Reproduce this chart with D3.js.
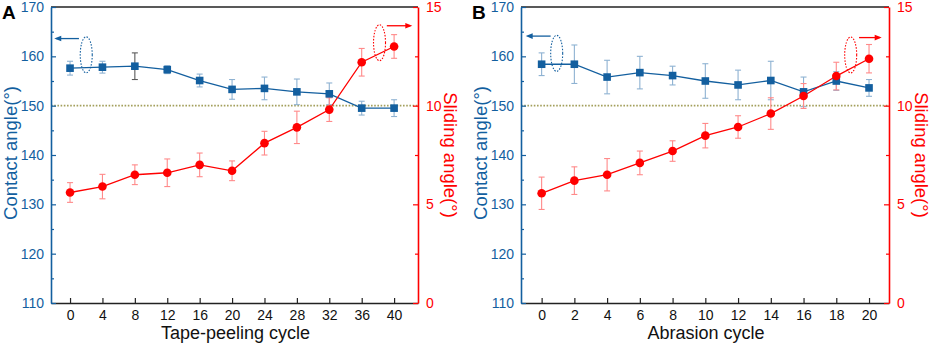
<!DOCTYPE html>
<html lang="en">
<head>
<meta charset="UTF-8">
<title>Contact angle and sliding angle</title>
<script src="https://d3js.org/d3.v7.min.js"></script>
<style>
  body { margin: 0; background: #fff; }
  svg { display: block; font-family: "Liberation Sans", Arial, sans-serif; }
</style>
</head>
<body>
<svg width="934" height="343"></svg>
<script>
// panel A: tape-peeling
const tapeCycles = [0, 4, 8, 12, 16, 20, 24, 28, 32, 36, 40];
const tapeCA     = [157.6, 157.8, 158.0, 157.3, 155.1, 153.3, 153.5, 152.8, 152.4, 149.5, 149.5];
const tapeCAErr  = [1.4, 1.2, 2.7, 0.8, 1.3, 2.0, 2.3, 2.6, 2.2, 1.4, 1.7];
const tapeSA     = [5.6, 5.9, 6.5, 6.6, 7.0, 6.7, 8.1, 8.9, 9.8, 12.2, 13.0];
const tapeSAErr  = [0.5, 0.62, 0.5, 0.7, 0.6, 0.5, 0.6, 0.82, 0.6, 0.7, 0.6];

// panel B: abrasion
const abrCycles = [0, 2, 4, 6, 8, 10, 12, 14, 16, 18, 20];
const abrCA     = [158.4, 158.4, 155.8, 156.7, 156.1, 155.0, 154.2, 155.1, 152.8, 155.0, 153.6];
const abrCAErr  = [2.3, 3.9, 3.4, 3.3, 1.9, 3.5, 3.0, 3.9, 3.0, 1.9, 1.7];
const abrSA     = [5.56, 6.2, 6.5, 7.1, 7.7, 8.48, 8.92, 9.6, 10.49, 11.5, 12.38];
const abrSAErr  = [0.82, 0.7, 0.82, 0.6, 0.52, 0.62, 0.57, 0.8, 0.63, 0.7, 0.72];

const caTicks = [110, 120, 130, 140, 150, 160, 170];
const saTicks = [0, 5, 10, 15];

const BLUE = "#135f9f", RED = "#ff0000";
const svg = d3.select("svg");

function drawPanel(p) {
  const g = svg.append("g");
  const x = d3.scaleLinear().domain(p.xDomain).range([p.left, p.right]);
  const yL = d3.scaleLinear().domain([110, 170]).range([303, 7]);
  const yR = d3.scaleLinear().domain([0, 15]).range([303, 7]);

  // reference line at 150
  g.append("line")
    .attr("x1", p.left).attr("x2", p.right)
    .attr("y1", yL(150)).attr("y2", yL(150))
    .attr("stroke", "#a39f5c").attr("stroke-width", 1.6)
    .attr("stroke-dasharray", "1.6,1.6");

  // top frame
  g.append("line").attr("x1", p.left).attr("x2", p.right)
    .attr("y1", 7).attr("y2", 7).attr("stroke", "#222").attr("stroke-width", 1.5);

  // bottom axis
  const xAxis = g.append("g").attr("transform", "translate(0,303)")
    .call(d3.axisBottom(x).tickValues(p.cycles).tickSize(-5).tickPadding(7).tickSizeOuter(0));
  xAxis.select(".domain").attr("stroke", "#222").attr("stroke-width", 1.5);
  xAxis.selectAll(".tick line").attr("stroke", "#222").attr("stroke-width", 1.2);
  xAxis.selectAll("text").attr("font-size", 14).attr("fill", "#111");

  // left axis with minor ticks
  const yMinor = d3.range(115, 170, 10);
  g.append("g").attr("transform", `translate(${p.left},0)`)
    .call(d3.axisLeft(yL).tickValues(yMinor).tickSize(-3).tickFormat(""))
    .call(a => a.select(".domain").remove())
    .selectAll("line").attr("stroke", BLUE).attr("stroke-width", 1.2);
  const yAxL = g.append("g").attr("transform", `translate(${p.left},0)`)
    .call(d3.axisLeft(yL).tickValues(caTicks).tickSize(-5).tickPadding(7).tickSizeOuter(0));
  yAxL.select(".domain").attr("stroke", BLUE).attr("stroke-width", 1.6);
  yAxL.selectAll(".tick line").attr("stroke", BLUE).attr("stroke-width", 1.2);
  yAxL.selectAll("text").attr("font-size", 14).attr("fill", BLUE);

  // right axis
  g.append("g").attr("transform", `translate(${p.right},0)`)
    .call(d3.axisRight(yR).tickValues([2.5, 7.5, 12.5]).tickSize(-3).tickFormat(""))
    .call(a => a.select(".domain").remove())
    .selectAll("line").attr("stroke", RED).attr("stroke-width", 1.2);
  const yAxR = g.append("g").attr("transform", `translate(${p.right},0)`)
    .call(d3.axisRight(yR).tickValues(saTicks).tickSize(-5).tickPadding(8).tickSizeOuter(0));
  yAxR.select(".domain").attr("stroke", RED).attr("stroke-width", 1.6);
  yAxR.selectAll(".tick line").attr("stroke", RED).attr("stroke-width", 1.2);
  yAxR.selectAll("text").attr("font-size", 14).attr("fill", RED);

  // titles
  g.append("text").attr("x", (p.left + p.right) / 2 + 1).attr("y", 339.3)
    .attr("text-anchor", "middle").attr("font-size", 18).attr("fill", "#111").text(p.xTitle);
  g.append("text").attr("transform", `translate(${p.left - 34},153) rotate(-90)`)
    .attr("text-anchor", "middle").attr("font-size", 18.5).attr("fill", BLUE).text("Contact angle(°)");
  g.append("text").attr("transform", `translate(${p.right + 26},155) rotate(90)`)
    .attr("text-anchor", "middle").attr("font-size", 18.5).attr("fill", RED).text("Sliding angle(°)");
  g.append("text").attr("x", p.left - 49).attr("y", 19)
    .attr("font-size", 19).attr("font-weight", "bold").attr("fill", "#000").text(p.letter);

  const ca = p.cycles.map((c, i) => ({ c, v: p.ca[i], e: p.caErr[i] }));
  const sa = p.cycles.map((c, i) => ({ c, v: p.sa[i], e: p.saErr[i] }));

  // error bars
  function errBars(data, y, color, darkIdx) {
    const eb = g.append("g").selectAll("g").data(data).join("g")
      .attr("stroke", (d, i) => i === darkIdx ? "#5a5a5a" : color).attr("stroke-width", 1.1);
    eb.append("line").attr("x1", d => x(d.c)).attr("x2", d => x(d.c))
      .attr("y1", d => y(d.v + d.e)).attr("y2", d => y(d.v - d.e));
    eb.append("line").attr("x1", d => x(d.c) - 3).attr("x2", d => x(d.c) + 3)
      .attr("y1", d => y(d.v + d.e)).attr("y2", d => y(d.v + d.e));
    eb.append("line").attr("x1", d => x(d.c) - 3).attr("x2", d => x(d.c) + 3)
      .attr("y1", d => y(d.v - d.e)).attr("y2", d => y(d.v - d.e));
  }
  errBars(ca, yL, "#8eb2d2", p.darkIdx);
  errBars(sa, yR, "#ff8a8a", -1);

  // lines
  g.append("path").datum(ca).attr("fill", "none").attr("stroke", BLUE).attr("stroke-width", 1.3)
    .attr("d", d3.line().x(d => x(d.c)).y(d => yL(d.v)));
  g.append("path").datum(sa).attr("fill", "none").attr("stroke", RED).attr("stroke-width", 1.3)
    .attr("d", d3.line().x(d => x(d.c)).y(d => yR(d.v)));

  // markers
  g.append("g").selectAll("rect").data(ca).join("rect")
    .attr("x", d => x(d.c) - 3.8).attr("y", d => yL(d.v) - 3.8)
    .attr("width", 7.6).attr("height", 7.6).attr("fill", BLUE);
  g.append("g").selectAll("circle").data(sa).join("circle")
    .attr("cx", d => x(d.c)).attr("cy", d => yR(d.v)).attr("r", 4.3).attr("fill", RED);

  // series indicators: dotted ellipse + arrow
  function indicator(ex, ey, ax1, ax2, ay, color) {
    g.append("ellipse").attr("cx", ex).attr("cy", ey).attr("rx", 6).attr("ry", 18)
      .attr("fill", "none").attr("stroke", color).attr("stroke-width", 1.1)
      .attr("stroke-dasharray", "1.5,1.5");
    g.append("line").attr("x1", ax1).attr("x2", ax2).attr("y1", ay).attr("y2", ay)
      .attr("stroke", color).attr("stroke-width", 1.3);
    const dir = Math.sign(ax2 - ax1);
    g.append("path")
      .attr("d", `M${ax2 + dir * 2},${ay} L${ax2 - dir * 5},${ay - 2.8} L${ax2 - dir * 5},${ay + 2.8} Z`)
      .attr("fill", color);
  }
  const bl = p.blueInd, rd = p.redInd;
  indicator(x(bl.ex), yL(bl.ey), x(bl.a1), x(bl.a2), yL(bl.ay), BLUE);
  indicator(x(rd.ex), yR(rd.ey), x(rd.a1), x(rd.a2), yR(rd.ay), RED);
}

drawPanel({
  letter: "A", left: 51, right: 418, xDomain: [-2.35, 42.95],
  cycles: tapeCycles, ca: tapeCA, caErr: tapeCAErr, sa: tapeSA, saErr: tapeSAErr,
  xTitle: "Tape-peeling cycle", darkIdx: 2,
  blueInd: { ex: 2.0, ey: 160.3, a1: 1.1, a2: -1.7, ay: 163.6 },
  redInd: { ex: 38.2, ey: 13.19, a1: 39.1, a2: 42.0, ay: 14.05 }
});
drawPanel({
  letter: "B", left: 521, right: 889, xDomain: [-1.26, 21.22],
  cycles: abrCycles, ca: abrCA, caErr: abrCAErr, sa: abrSA, saErr: abrSAErr,
  xTitle: "Abrasion cycle", darkIdx: -1,
  blueInd: { ex: 0.92, ey: 160.6, a1: 0.55, a2: -0.85, ay: 164.1 },
  redInd: { ex: 18.88, ey: 12.57, a1: 19.39, a2: 20.65, ay: 13.45 }
});
</script>
</body>
</html>
